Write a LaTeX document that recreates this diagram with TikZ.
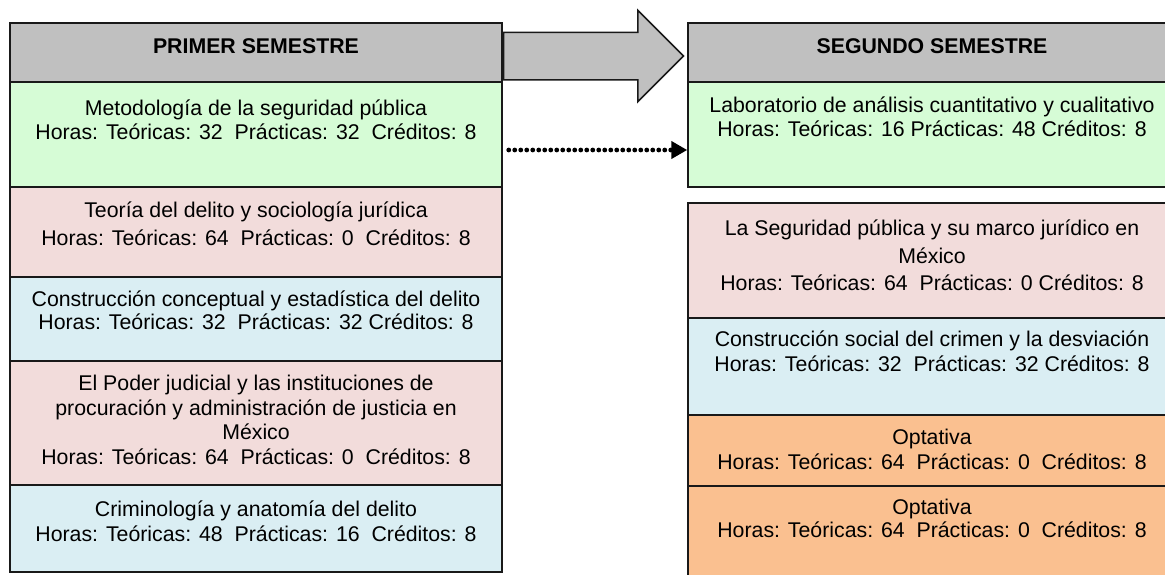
\documentclass[tikz,border=0pt]{standalone}
\usepackage{fontspec}
\setmainfont{Liberation Sans}
\usetikzlibrary{fit,arrows.meta,shapes.arrows,calc}
\definecolor{hdrgray}{HTML}{C0C0C0}
\definecolor{cellgreen}{HTML}{D6FCD6}
\definecolor{cellpink}{HTML}{F2DCDB}
\definecolor{cellblue}{HTML}{DAEEF3}
\definecolor{cellorange}{HTML}{FAC090}
\newcommand{\fl}{\rule{0pt}{10pt}}
\newcommand{\ds}{~~}
\begin{document}
\begin{tikzpicture}[x=0.5pt,y=-0.5pt,
  cell/.style={draw=black!90, line width=0.75pt, inner sep=0pt, fill=#1},
  txt/.style={anchor=north, inner sep=0pt, align=center,
    font=\fontsize{10.65pt}{#1}\selectfont},
  txt/.default=12pt,
  bigarrow/.style={single arrow, draw=black!90, fill=hdrgray, line width=0.75pt,
    inner xsep=0pt, inner ysep=11.5pt, minimum height=90pt,
    single arrow head extend=11pt, single arrow tip angle=90, anchor=tail},
  dotarrow/.style={line width=2.4pt, dash pattern=on 0pt off 3pt, line cap=round,
    -{Triangle[length=8pt,width=8.5pt]}, shorten <=3pt}
]
\useasboundingbox (0,0) rectangle (1165,574);
\clip (0,0) rectangle (1165,574);

% left column
\node[cell=hdrgray, fit={(10,23)(502,82)}] (L0) {};
\node[cell=cellgreen, fit={(10,82)(502,187)}] (L1) {};
\node[cell=cellpink, fit={(10,187)(502,277)}] (L2) {};
\node[cell=cellblue, fit={(10,277)(502,361)}] (L3) {};
\node[cell=cellpink, fit={(10,361)(502,485)}] (L4) {};
\node[cell=cellblue, fit={(10,485)(502,572)}] (L5) {};

% right column
\node[cell=hdrgray, fit={(688,23)(1176,82)}] (R0) {};
\node[cell=cellgreen, fit={(688,82)(1176,187)}] (R1) {};
\node[cell=cellpink, fit={(688,203)(1176,318)}] (R2) {};
\node[cell=cellblue, fit={(688,318)(1176,415)}] (R3) {};
\node[cell=cellorange, fit={(688,415)(1176,486)}] (R4) {};
\node[cell=cellorange, fit={(688,486)(1176,600)}] (R5) {};

% texts left
\node[txt, yshift=-5.5pt] (tL0) at (L0.north) {\fl\bfseries PRIMER SEMESTRE};
\node[txt=11.75pt, yshift=-7pt] (tL1) at (L1.north)
  {\fl Metodología de la seguridad pública\\Horas: Teóricas: 32\ds Prácticas: 32\ds Créditos: 8};
\node[txt=14pt, yshift=-5.5pt] (tL2) at (L2.north)
  {\fl Teoría del delito y sociología jurídica\\Horas: Teóricas: 64\ds Prácticas: 0\ds Créditos: 8};
\node[txt=11.5pt, yshift=-5pt] (tL3) at (L3.north)
  {\fl Construcción conceptual y estadística del delito\\Horas: Teóricas: 32\ds Prácticas: 32 Créditos: 8};
\node[txt=12.25pt, yshift=-5pt] (tL4) at (L4.north)
  {\fl El Poder judicial y las instituciones de\\procuración y administración de justicia en\\México\\Horas: Teóricas: 64\ds Prácticas: 0\ds Créditos: 8};
\node[txt=12.5pt, yshift=-6pt] (tL5) at (L5.north)
  {\fl Criminología y anatomía del delito\\Horas: Teóricas: 48\ds Prácticas: 16\ds Créditos: 8};

% texts right
\node[txt, yshift=-5.5pt] (tR0) at (R0.north) {\fl\bfseries SEGUNDO SEMESTRE};
\node[txt=12pt, yshift=-5.5pt] (tR1) at (R1.north)
  {\fl Laboratorio de análisis cuantitativo y cualitativo\\Horas: Teóricas: 16 Prácticas: 48 Créditos: 8};
\node[txt=13.75pt, yshift=-6.5pt] (tR2) at (R2.north)
  {\fl La Seguridad pública y su marco jurídico en\\México\\Horas: Teóricas: 64\ds Prácticas: 0 Créditos: 8};
\node[txt=12.5pt, yshift=-4.5pt] (tR3) at (R3.north)
  {\fl Construcción social del crimen y la desviación\\Horas: Teóricas: 32\ds Prácticas: 32 Créditos: 8};
\node[txt=12.5pt, yshift=-5pt] (tR4) at (R4.north)
  {\fl Optativa\\Horas: Teóricas: 64\ds Prácticas: 0\ds Créditos: 8};
\node[txt=11.5pt, yshift=-4.5pt] (tR5) at (R5.north)
  {\fl Optativa\\Horas: Teóricas: 64\ds Prácticas: 0\ds Créditos: 8};

% connectors
\node[bigarrow] (big) at ($(L0.east)+(0,3.5)$) {};
\coordinate (dstart) at ($(L1.east)+(0,15.5)$);
\draw[dotarrow] (dstart) -- (dstart -| R1.west);
\end{tikzpicture}
\end{document}
